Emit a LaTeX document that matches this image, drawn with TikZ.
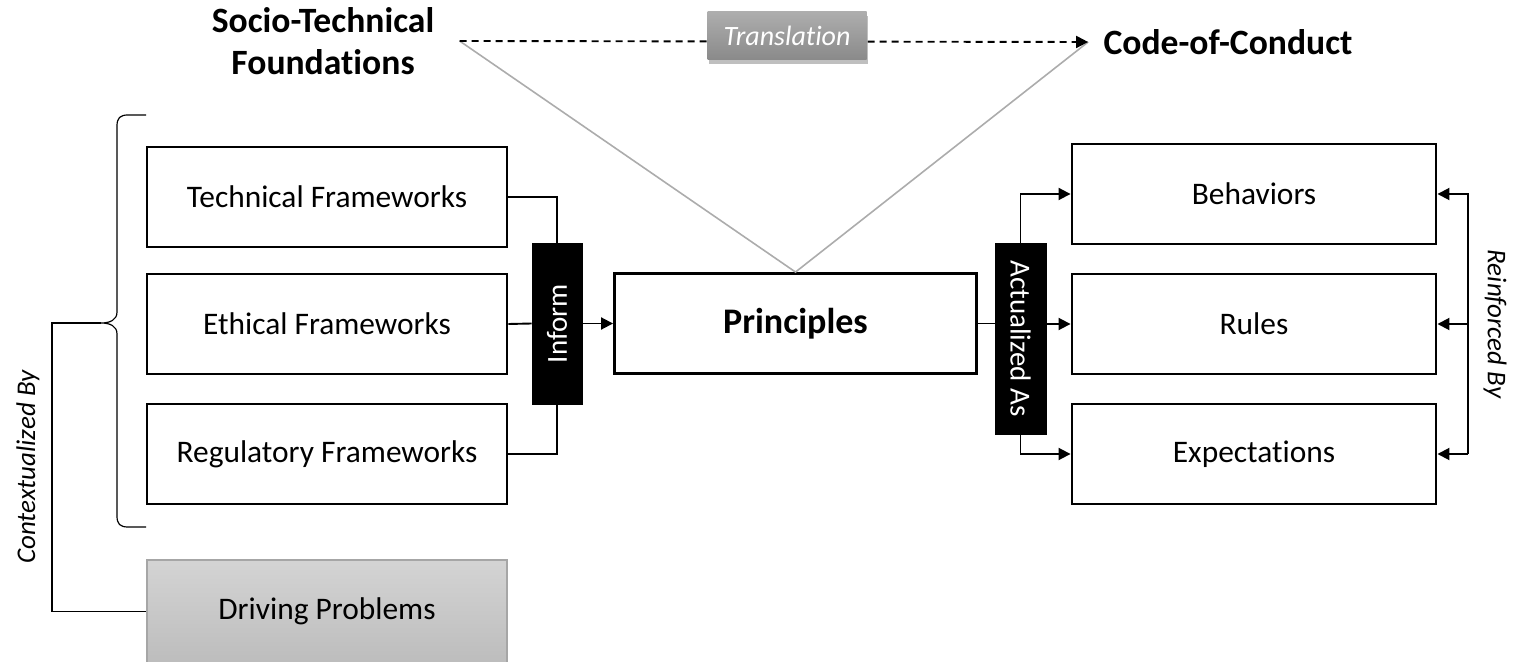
\documentclass[tikz,border=0pt]{standalone}
\usepackage{fontspec}
\setmainfont{Carlito}[Ligatures=CommonOff]
\usepackage{tikz}
\usetikzlibrary{arrows.meta, positioning, shadows}

\tikzset{
  frame/.style={draw, line width=1.45pt, minimum width=180pt, minimum height=50pt,
    font=\fontsize{15.7}{18}\selectfont},
  tag/.style={fill=black, draw=black, text=white, inner sep=0pt,
    font=\fontsize{14.5}{17}\selectfont},
  title/.style={inner sep=0pt, align=center, font=\fontsize{17.8}{21}\selectfont\bfseries},
  side/.style={inner sep=0pt, font=\fontsize{13.5}{16}\selectfont\itshape},
  link/.style={line width=0.95pt},
  arr/.style={link, -{Triangle[length=6pt,width=6pt]}},
}

\begin{document}
\begin{tikzpicture}[x=0.5pt, y=-0.5pt]
  \useasboundingbox (0,0) rectangle (1514,662);

  \node[frame] (tech) at (327,197) {Technical Frameworks};
  \node[frame] (ethic) at (327,324) {Ethical Frameworks};
  \node[frame] (regul) at (327,454) {Regulatory Frameworks};
  \node[frame, draw=black!35, line width=0.6pt, top color=black!17, bottom color=black!26,
    minimum height=51.5pt] (drive) at (327,611.5) {Driving Problems};

  \node[tag, minimum width=25pt, minimum height=80.5pt] (inform) at (557,323.5) {\rotatebox{90}{Inform}};
  \node[frame, minimum width=181pt, font=\fontsize{18}{21}\selectfont\bfseries] (principles) at (795.5,323.5) {Principles};
  \node[tag, minimum width=25.5pt, minimum height=95.5pt] (actual) at (1020.5,338.5) {\rotatebox{-90}{Actualized As}};

  \node[frame, minimum width=182pt] (behav) at (1254,194) {Behaviors};
  \node[frame, minimum width=182pt] (rules) at (1254,324) {Rules};
  \node[frame, minimum width=182pt] (expect) at (1254,454) {Expectations};

  \node[title] (socio) at (323,41) {Socio-Technical\\Foundations};
  \node[title] (code) at (1228,42) {Code-of-Conduct};
  \coordinate (tstart) at ([xshift=12.5pt]socio.east);
  \coordinate (tend) at ([xshift=-7.5pt]code.west);

  \draw[gray!65, line width=0.8pt] (tstart) -- (principles.north) -- (tend);
  \draw[arr, dash pattern=on 3.5pt off 2.5pt] (tstart) -- (tend);
  \node[top color=black!32, bottom color=black!46, drop shadow={opacity=0.5, shadow xshift=0.5pt, shadow yshift=-2pt},
    minimum width=79.5pt, minimum height=24pt, text=white, font=\fontsize{14}{16}\selectfont\itshape] (transl) at (787,36) {Translation};

  \draw[link] (tech.east) -| (inform.north);
  \draw[link] (regul.east) -| (inform.south);
  \draw[link] (ethic.east) -- (inform.west);
  \draw[arr] (inform.east) -- (principles.west);

  \draw[link] (principles.east) -- (principles.east -| actual.west);
  \draw[arr] (rules.west -| actual.east) -- (rules.west);
  \draw[arr] (actual.north) |- (behav.west);
  \draw[arr] (actual.south) |- (expect.west);

  \coordinate (reinf) at (1468,324);
  \draw[arr] (expect.east -| reinf) |- (behav.east);
  \draw[arr] (rules.east -| reinf) -- (rules.east);
  \draw[arr] (expect.east -| reinf) -- (expect.east);
  \node[side, rotate=-90] (reinflabel) at (1495,324) {Reinforced By};

  \draw[link, line width=0.6pt] (146,115) -- (128,115) .. controls (120,115) and (117,118) .. (117,126)
    -- (117,312) .. controls (117,320) and (110,323) .. (101,323)
    .. controls (110,323) and (117,326) .. (117,334) -- (117,516)
    .. controls (117,524) and (120,527) .. (128,527) -- (146,527);
  \coordinate (ctxtip) at (101,323);
  \draw[link] (ctxtip) -- (52,323) |- (drive.west);
  \node[side, rotate=90] (ctxlabel) at (28,467) {Contextualized By};
\end{tikzpicture}
\end{document}
